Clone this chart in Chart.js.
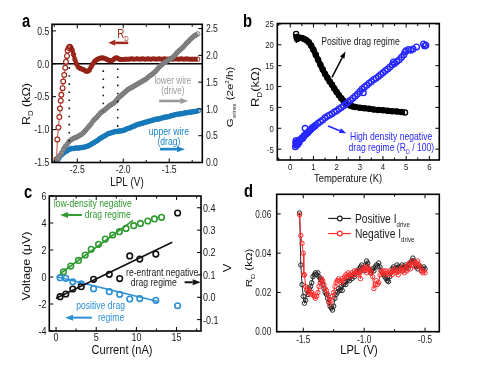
<!DOCTYPE html>
<html><head><meta charset="utf-8">
<script src="https://cdn.jsdelivr.net/npm/chart.js@4.4.1/dist/chart.umd.min.js"></script>
<style>
html,body{margin:0;padding:0;background:#fff;width:491px;height:368px;overflow:hidden}
#wrap{position:relative;width:491px;height:368px}
canvas{position:absolute;left:0;top:0}
</style></head>
<body><div id="wrap">
<canvas id="ca" width="491" height="368"></canvas>
<canvas id="cb" width="491" height="368"></canvas>
<canvas id="cc" width="491" height="368"></canvas>
<canvas id="cd" width="491" height="368"></canvas>
</div>
<script>
// ---------------- DATA ----------------
// Panel a : R_D (left axis, kΩ) and wire conductances (right axis, 2e²/h) vs LPL (V)
const aRdSparse = [[-2.725,-1.45],[-2.717,-1.15],[-2.705,-0.97],[-2.695,-0.81],[-2.688,-0.68],[-2.68,-0.56],[-2.674,-0.47],[-2.66,-0.37],[-2.653,-0.27],[-2.642,-0.17],[-2.631,-0.06],[-2.623,0.03],[-2.612,0.12],[-2.605,0.20],[-2.594,0.24],[-2.583,0.26]];
const aRdDense = [[-2.583,0.26],[-2.57,0.25],[-2.555,0.21],[-2.54,0.14],[-2.525,0.06],[-2.51,0.0],[-2.49,-0.05],[-2.47,-0.07],[-2.45,-0.08],[-2.43,-0.09],[-2.41,-0.11],[-2.39,-0.115],[-2.37,-0.10],[-2.35,-0.05],[-2.33,0.0],[-2.31,0.04],[-2.29,0.06],[-2.27,0.075],[-2.25,0.085],[-2.23,0.09],[-2.21,0.085],[-2.19,0.075],[-2.17,0.06],[-2.15,0.05],[-2.13,0.045],[-2.11,0.06],[-2.09,0.085],[-2.07,0.09],[-2.05,0.075],[-2.03,0.065],[-2.0,0.065],[-1.97,0.07],[-1.94,0.07],[-1.91,0.075],[-1.88,0.07],[-1.85,0.075],[-1.82,0.07],[-1.79,0.075],[-1.76,0.07],[-1.73,0.075],[-1.70,0.07],[-1.67,0.075],[-1.64,0.07],[-1.61,0.075],[-1.58,0.07],[-1.55,0.075],[-1.52,0.07],[-1.49,0.075],[-1.46,0.07],[-1.43,0.075],[-1.40,0.07],[-1.37,0.075],[-1.34,0.07],[-1.31,0.075],[-1.28,0.07],[-1.25,0.07],[-1.22,0.07],[-1.19,0.07]];
const aLower = [[-2.73,0.03],[-2.71,0.08],[-2.69,0.13],[-2.67,0.18],[-2.65,0.25],[-2.63,0.30],[-2.61,0.34],[-2.59,0.39],[-2.57,0.42],[-2.55,0.44],[-2.53,0.46],[-2.51,0.47],[-2.49,0.49],[-2.47,0.51],[-2.45,0.53],[-2.43,0.56],[-2.41,0.60],[-2.39,0.64],[-2.37,0.68],[-2.35,0.72],[-2.33,0.77],[-2.31,0.81],[-2.29,0.84],[-2.27,0.88],[-2.25,0.92],[-2.23,0.95],[-2.21,0.97],[-2.19,1.00],[-2.17,1.03],[-2.15,1.06],[-2.13,1.08],[-2.11,1.10],[-2.09,1.13],[-2.07,1.17],[-2.05,1.21],[-2.03,1.24],[-2.01,1.27],[-1.99,1.30],[-1.97,1.33],[-1.95,1.36],[-1.93,1.38],[-1.91,1.40],[-1.89,1.42],[-1.87,1.44],[-1.85,1.46],[-1.83,1.48],[-1.81,1.50],[-1.79,1.52],[-1.77,1.54],[-1.75,1.56],[-1.73,1.59],[-1.71,1.62],[-1.69,1.64],[-1.67,1.67],[-1.65,1.70],[-1.63,1.74],[-1.61,1.78],[-1.59,1.81],[-1.57,1.84],[-1.55,1.87],[-1.53,1.89],[-1.51,1.91],[-1.49,1.93],[-1.47,1.95],[-1.45,1.98],[-1.43,2.02],[-1.41,2.06],[-1.39,2.09],[-1.37,2.12],[-1.35,2.15],[-1.33,2.19],[-1.31,2.23],[-1.29,2.26],[-1.27,2.30],[-1.25,2.33],[-1.23,2.36],[-1.21,2.38],[-1.19,2.40]];
const aUpper = [[-2.72,0.03],[-2.70,0.08],[-2.68,0.13],[-2.66,0.16],[-2.64,0.19],[-2.62,0.21],[-2.60,0.23],[-2.58,0.25],[-2.56,0.26],[-2.54,0.26],[-2.52,0.27],[-2.50,0.27],[-2.48,0.27],[-2.46,0.28],[-2.44,0.28],[-2.42,0.29],[-2.40,0.30],[-2.38,0.31],[-2.36,0.33],[-2.34,0.35],[-2.32,0.37],[-2.30,0.39],[-2.28,0.41],[-2.26,0.44],[-2.24,0.46],[-2.22,0.48],[-2.20,0.50],[-2.18,0.52],[-2.16,0.54],[-2.14,0.55],[-2.12,0.56],[-2.10,0.57],[-2.08,0.58],[-2.06,0.58],[-2.04,0.59],[-2.02,0.59],[-2.00,0.60],[-1.98,0.61],[-1.96,0.63],[-1.94,0.64],[-1.92,0.65],[-1.90,0.67],[-1.88,0.68],[-1.86,0.70],[-1.84,0.71],[-1.82,0.72],[-1.80,0.73],[-1.78,0.74],[-1.76,0.75],[-1.74,0.76],[-1.72,0.77],[-1.70,0.78],[-1.68,0.79],[-1.66,0.80],[-1.64,0.81],[-1.62,0.81],[-1.60,0.82],[-1.58,0.83],[-1.56,0.84],[-1.54,0.85],[-1.52,0.85],[-1.50,0.86],[-1.48,0.87],[-1.46,0.88],[-1.44,0.89],[-1.42,0.90],[-1.40,0.90],[-1.38,0.91],[-1.36,0.91],[-1.34,0.92],[-1.32,0.93],[-1.30,0.93],[-1.28,0.94],[-1.26,0.94],[-1.24,0.95],[-1.22,0.95],[-1.20,0.96],[-1.18,0.97]];
const aDots = [[-2.587,-0.05,-1.2],[-2.217,-0.1,-0.72],[-2.06,-0.07,-1.02]]; // x, yTop, yBottom (left axis)
const aXTicks = [-2.5,-2.0,-1.5], aXMinor = [-2.75,-2.25,-1.75,-1.25];
const aYTicks = [0.5,0.0,-0.5,-1.0,-1.5];
const aY1Ticks = [0.0,0.5,1.0,1.5,2.0,2.5];

// Panel b : R_D vs Temperature
const bPos = [[0.25,22.6],[0.27,21.8],[0.3,21.4],[0.35,21.6],[0.4,21.7],[0.5,21.6],[0.6,21.4],[0.7,21.1],[0.8,20.6],[0.9,19.8],[1.0,18.8],[1.1,17.6],[1.2,16.4],[1.3,15.2],[1.4,14.1],[1.5,13.0],[1.6,12.1],[1.7,11.2],[1.8,10.4],[1.9,9.5],[2.0,8.7],[2.1,7.9],[2.2,7.2],[2.3,6.6],[2.4,6.1],[2.5,5.7],[2.6,5.4],[2.7,5.2],[2.8,5.1],[3.0,4.9],[3.2,4.8],[3.4,4.7],[3.6,4.5],[3.8,4.4],[4.0,4.3],[4.2,4.2],[4.4,4.1],[4.6,4.0],[4.8,3.9],[4.95,3.8]];
const bNeg = [[0.22,-4.4],[0.23,-3.4],[0.25,-2.9],[0.26,-4.0],[0.28,-3.7],[0.3,-3.2],[0.32,-3.9],[0.35,-3.0],[0.38,-3.4],[0.42,-2.8],[0.46,-2.6],[0.5,-2.3],[0.54,-2.4],[0.58,-1.9],[0.62,-1.7],[0.64,0.0],[0.68,-1.4],[0.72,-1.2],[0.76,-1.0],[0.8,-0.7],[0.85,-0.5],[0.9,-0.2],[0.95,0.1],[1.0,0.3],[1.05,0.5],[1.1,0.8],[1.2,1.2],[1.3,1.6],[1.4,2.0],[1.5,2.5],[1.6,2.9],[1.7,3.2],[1.8,3.5],[1.9,3.9],[2.0,4.2],[2.1,4.6],[2.2,5.0],[2.3,5.4],[2.4,5.8],[2.5,6.3],[2.6,6.7],[2.7,7.2],[2.8,7.7],[2.9,8.2],[3.0,8.8],[3.1,9.4],[3.15,8.5],[3.2,9.9],[3.3,10.3],[3.4,10.8],[3.5,11.2],[3.6,11.7],[3.7,12.0],[3.8,12.4],[3.9,12.9],[4.0,13.3],[4.1,13.8],[4.2,14.2],[4.3,14.7],[4.4,15.2],[4.45,15.9],[4.5,15.5],[4.6,16.0],[4.7,16.4],[4.8,17.0],[4.9,17.6],[4.95,18.3],[5.0,18.6],[5.1,18.9],[5.2,18.7],[5.3,19.0],[5.45,19.5],[5.75,20.2],[5.85,19.9],[5.8,19.7]];
const bXTicks = [0,1,2,3,4,5,6], bXMinor = [-0.5,0.5,1.5,2.5,3.5,4.5,5.5];
const bYTicks = [-5,0,5,10,15,20,25];

// Panel c : Voltage vs Current
const cGreen = [[0.92,0.39],[1.83,0.81],[2.79,1.23],[3.63,1.63],[4.38,2.05],[5.29,2.42],[6.13,2.81],[7.04,3.11],[7.88,3.36],[8.71,3.60],[9.67,3.80],[10.5,3.97],[11.42,4.15],[12.25,4.30],[13.13,4.42]];
const cGreenFit = [[0.5,0.24],[9.58,4.2]];
const cBlack = [[0.5,-1.46],[1.21,-1.26],[2.08,-0.89],[3.13,-0.72],[4.67,-0.17],[6.63,0.2],[7.92,-0.12],[9.17,1.56],[10.42,1.33],[12.42,1.7],[15.13,4.74]];
const cBlackFit = [[0.0,-1.58],[14.46,2.57]];
const cBlue = [[0.5,-0.05],[1.21,-0.1],[2.08,-0.35],[3.13,-0.5],[4.67,-0.87],[6.63,-1.09],[7.92,-1.28],[9.17,-1.63],[10.42,-1.6],[12.42,-1.73],[15.13,-2.13]];
const cBlueFit = [[0.08,0.02],[12.8,-1.83]];
const cXTicks = [0,5,10,15], cXMinor = [2.5,7.5,12.5,17.5];
const cYTicks = [-4,-2,0,2,4,6];
const cY1Ticks = [-0.1,0.0,0.1,0.2,0.3,0.4];

// Panel d : R_D vs LPL for both drive polarities
const dPos = [[-1.53,0.0605],[-1.52,0.034],[-1.51,0.024],[-1.50,0.018],[-1.49,0.0145],[-1.48,0.016],[-1.47,0.021],[-1.46,0.019],[-1.45,0.022],[-1.44,0.023],[-1.43,0.025],[-1.42,0.028],[-1.41,0.029],[-1.40,0.030],[-1.39,0.029],[-1.38,0.030],[-1.37,0.028],[-1.36,0.027],[-1.35,0.026],[-1.34,0.024],[-1.33,0.022],[-1.32,0.020],[-1.31,0.019],[-1.30,0.017],[-1.29,0.015],[-1.28,0.013],[-1.27,0.012],[-1.26,0.011],[-1.25,0.013],[-1.24,0.017],[-1.23,0.019],[-1.22,0.020],[-1.21,0.022],[-1.20,0.021],[-1.19,0.023],[-1.18,0.021],[-1.17,0.024],[-1.16,0.025],[-1.15,0.024],[-1.14,0.026],[-1.13,0.027],[-1.12,0.026],[-1.11,0.028],[-1.10,0.027],[-1.09,0.029],[-1.08,0.028],[-1.07,0.030],[-1.06,0.031],[-1.05,0.030],[-1.04,0.032],[-1.03,0.033],[-1.02,0.034],[-1.01,0.032],[-1.00,0.031],[-0.99,0.034],[-0.98,0.036],[-0.97,0.035],[-0.96,0.032],[-0.95,0.030],[-0.94,0.031],[-0.93,0.032],[-0.92,0.031],[-0.91,0.033],[-0.90,0.034],[-0.89,0.033],[-0.88,0.035],[-0.87,0.033],[-0.86,0.031],[-0.85,0.030],[-0.84,0.029],[-0.83,0.028],[-0.82,0.027],[-0.81,0.026],[-0.80,0.0255],[-0.79,0.028],[-0.78,0.030],[-0.77,0.032],[-0.76,0.033],[-0.75,0.032],[-0.74,0.031],[-0.73,0.034],[-0.72,0.033],[-0.71,0.032],[-0.70,0.033],[-0.69,0.034],[-0.68,0.031],[-0.67,0.033],[-0.66,0.034],[-0.65,0.033],[-0.64,0.032],[-0.63,0.034],[-0.62,0.035],[-0.61,0.036],[-0.60,0.0375],[-0.59,0.036],[-0.58,0.034],[-0.57,0.033],[-0.56,0.032],[-0.55,0.034],[-0.54,0.033],[-0.53,0.031],[-0.52,0.032],[-0.51,0.033],[-0.50,0.032]];
const dNeg = [[-1.53,0.0595],[-1.52,0.049],[-1.51,0.045],[-1.50,0.040],[-1.495,0.029],[-1.49,0.029],[-1.48,0.023],[-1.47,0.022],[-1.46,0.020],[-1.45,0.021],[-1.44,0.019],[-1.43,0.020],[-1.42,0.019],[-1.41,0.018],[-1.40,0.017],[-1.39,0.018],[-1.38,0.020],[-1.37,0.023],[-1.36,0.025],[-1.35,0.027],[-1.34,0.026],[-1.33,0.024],[-1.32,0.022],[-1.31,0.021],[-1.30,0.019],[-1.29,0.016],[-1.28,0.014],[-1.27,0.016],[-1.26,0.018],[-1.25,0.020],[-1.24,0.023],[-1.23,0.025],[-1.22,0.026],[-1.21,0.027],[-1.20,0.026],[-1.19,0.025],[-1.18,0.027],[-1.17,0.026],[-1.16,0.028],[-1.15,0.029],[-1.14,0.028],[-1.13,0.030],[-1.12,0.029],[-1.11,0.028],[-1.10,0.030],[-1.09,0.029],[-1.08,0.031],[-1.07,0.030],[-1.06,0.029],[-1.05,0.031],[-1.04,0.030],[-1.03,0.027],[-1.02,0.031],[-1.01,0.032],[-1.00,0.033],[-0.99,0.032],[-0.98,0.030],[-0.97,0.033],[-0.96,0.032],[-0.95,0.031],[-0.94,0.030],[-0.93,0.028],[-0.92,0.022],[-0.91,0.024],[-0.90,0.026],[-0.89,0.024],[-0.88,0.025],[-0.87,0.029],[-0.86,0.031],[-0.85,0.030],[-0.84,0.031],[-0.83,0.029],[-0.82,0.031],[-0.81,0.030],[-0.80,0.029],[-0.79,0.031],[-0.78,0.030],[-0.77,0.029],[-0.76,0.031],[-0.75,0.032],[-0.74,0.030],[-0.73,0.031],[-0.72,0.029],[-0.71,0.031],[-0.70,0.032],[-0.69,0.031],[-0.68,0.033],[-0.67,0.030],[-0.66,0.032],[-0.65,0.031],[-0.64,0.034],[-0.63,0.035],[-0.62,0.032],[-0.61,0.034],[-0.60,0.036],[-0.59,0.035],[-0.58,0.033],[-0.57,0.035],[-0.56,0.036],[-0.55,0.034],[-0.54,0.033],[-0.53,0.031],[-0.52,0.030],[-0.51,0.031],[-0.50,0.030]];
const dXTicks = [-1.5,-1.0,-0.5], dXMinor = [-1.25,-0.75];
const dYTicks = [0.00,0.02,0.04,0.06];

// ---------------- HELPERS ----------------
const FR = '"Liberation Sans",Arial,sans-serif';
const SQ = 0.82; // horizontal squeeze of the original figure's lettering
const RED='#a3281c', GRAY='#8e8e8e', ABLUE='#1a84c7', BBLUE='#2626ff', GREEN='#2f9a2f', CBLUE='#2b8fd2', DRED='#ff2a2a';
const W=491, H=368;
const pts = arr => arr.map(p => ({x:p[0], y:p[1]}));
function pad(l,t,r,b,lw,rw,bh){ return {left:l-lw, top:t, right:W-r-rw, bottom:H-b-bh}; }
function axis(pos, fix, ticksArr, extra){
  return Object.assign({
    type:'linear', position:pos,
    grid:{display:false, drawTicks:false}, border:{display:false},
    ticks:{display:false},
    afterBuildTicks: s => { s.ticks = ticksArr.map(v => ({value:v})); },
    afterFit: s => { if(pos==='left'||pos==='right') s.width = fix; else s.height = fix; }
  }, extra);
}
function rich(ctx,x,y,parts,o){
  const size=o.size||10, wt=o.weight||'normal';
  ctx.save(); ctx.translate(x,y);
  if(o.rot){ ctx.rotate(o.rot); ctx.scale(1,SQ); } else { ctx.scale(SQ,1); }
  ctx.fillStyle=o.color||'#111'; ctx.textBaseline='alphabetic'; ctx.textAlign='left';
  let tot=0;
  const segs=parts.map(p=>{ const s=p[1]?size*(o.subScale||0.62):size; ctx.font=wt+' '+s+'px '+FR;
    const wd=ctx.measureText(p[0]).width; tot+=wd;
    return {t:p[0], s, wd, dy:p[1]==='sub'?size*0.3:(p[1]==='sup'?-size*0.42:0)}; });
  let cx = o.align==='left'?0:(o.align==='right'?-tot:-tot/2);
  const by = size*0.36;
  segs.forEach(g=>{ ctx.font=wt+' '+g.s+'px '+FR; ctx.fillText(g.t,cx,by+g.dy); cx+=g.wd; });
  ctx.restore();
}
function arrow(ctx,x1,y1,x2,y2,col,lw,hl,hw){
  const a=Math.atan2(y2-y1,x2-x1), bx=x2-hl*Math.cos(a), by=y2-hl*Math.sin(a);
  ctx.save(); ctx.strokeStyle=col; ctx.fillStyle=col; ctx.lineWidth=lw;
  ctx.beginPath(); ctx.moveTo(x1,y1); ctx.lineTo(bx,by); ctx.stroke();
  ctx.beginPath(); ctx.moveTo(x2,y2);
  ctx.lineTo(bx+hw/2*Math.sin(a), by-hw/2*Math.cos(a));
  ctx.lineTo(bx-hw/2*Math.sin(a), by+hw/2*Math.cos(a));
  ctx.closePath(); ctx.fill(); ctx.restore();
}
// frame, inward tick marks and tick labels (labels from the tick arrays, placed by the chart's scales)
function frame(ch, specs){
  const ctx=ch.ctx, a=ch.chartArea;
  ctx.save(); ctx.strokeStyle='#000'; ctx.lineWidth=1; ctx.beginPath();
  specs.forEach(t=>{ const s=ch.scales[t.id];
    [[t.major,4],[t.minor||[],2.5]].forEach(([vals,len])=>vals.forEach(v=>{ const p=s.getPixelForValue(v);
      t.sides.forEach(sd=>{
        if(sd==='bottom'){ctx.moveTo(p,a.bottom);ctx.lineTo(p,a.bottom-len);}
        if(sd==='top'){ctx.moveTo(p,a.top);ctx.lineTo(p,a.top+len);}
        if(sd==='left'){ctx.moveTo(a.left,p);ctx.lineTo(a.left+len,p);}
        if(sd==='right'){ctx.moveTo(a.right,p);ctx.lineTo(a.right-len,p);}
      }); })); });
  ctx.stroke(); ctx.lineWidth=1.6; ctx.strokeRect(a.left,a.top,a.right-a.left,a.bottom-a.top); ctx.restore();
  specs.forEach(t=>{ if(!t.lab) return; const s=ch.scales[t.id], L=t.lab;
    t.major.forEach(v=>{ const p=s.getPixelForValue(v), txt=L.fmt(v);
      if(L.side==='bottom') rich(ctx,p,a.bottom+L.off,[[txt]],{size:L.size,color:'#1a1a1a'});
      if(L.side==='left') rich(ctx,a.left-L.off,p,[[txt]],{size:L.size,color:'#1a1a1a',align:'right'});
      if(L.side==='right') rich(ctx,a.right+L.off,p,[[txt]],{size:L.size,color:'#1a1a1a',align:'left'});
    }); });
}
function letter(ctx,t,x,y){ ctx.save(); ctx.translate(x,y); ctx.scale(SQ,1); ctx.fillStyle='#000'; ctx.font='bold 18px '+FR; ctx.textBaseline='alphabetic'; ctx.fillText(t,0,0); ctx.restore(); }
const base = { responsive:false, animation:false, devicePixelRatio:1,
  plugins:{legend:{display:false}, tooltip:{enabled:false}} };
function opts(p, scales){ return Object.assign({}, base, {layout:{padding:p}, scales}); }
const f1 = v => v.toFixed(1), f0 = v => String(v), f2 = v => v.toFixed(2);
const ROT = -Math.PI/2;

// ---------------- PANEL A ----------------
new Chart(document.getElementById('ca'), {
  type:'scatter',
  data:{ datasets:[
    ...aDots.map(d=>({data:[{x:d[0],y:d[1]},{x:d[0],y:d[2]}], yAxisID:'y', showLine:true, borderColor:'#111', borderWidth:1.6, borderDash:[1.6,6.5], pointRadius:0})),
    {data:pts(aLower), yAxisID:'y1', showLine:true, borderColor:GRAY, borderWidth:4, pointRadius:2.3, pointBorderWidth:1, pointBorderColor:'#777', pointBackgroundColor:'rgba(0,0,0,0)'},
    {data:pts(aUpper), yAxisID:'y1', showLine:true, borderColor:ABLUE, borderWidth:4.5, pointRadius:2.3, pointBorderWidth:1, pointBorderColor:'#1577b8', pointBackgroundColor:'rgba(0,0,0,0)'},
    {data:pts(aRdDense), yAxisID:'y', showLine:true, borderColor:RED, borderWidth:4, pointRadius:2.2, pointBorderWidth:1, pointBorderColor:'#8e2014', pointBackgroundColor:'rgba(0,0,0,0)'},
    {data:pts(aRdSparse), yAxisID:'y', showLine:true, borderColor:'#c0483c', borderWidth:1, pointRadius:2.4, pointBorderWidth:1.2, pointBorderColor:RED, pointBackgroundColor:'#fff'}
  ]},
  options: opts(pad(52,24.3,202.3,162.5,52,42.7,22.5), {
    x: axis('bottom',22.5,aXTicks,{min:-2.775,max:-1.14}),
    y: axis('left',52,aYTicks,{min:-1.5,max:0.6}),
    y1: axis('right',42.7,aY1Ticks,{min:0,max:2.58})
  }),
  plugins:[{id:'decoA',
    beforeDatasetsDraw(ch){ const ctx=ch.ctx, a=ch.chartArea, y0=ch.scales.y.getPixelForValue(0);
      ctx.save(); ctx.strokeStyle='#000'; ctx.lineWidth=1.6; ctx.beginPath(); ctx.moveTo(a.left,y0); ctx.lineTo(a.right,y0); ctx.stroke(); ctx.restore(); },
    afterDraw(ch){
      const ctx=ch.ctx, px=v=>ch.scales.x.getPixelForValue(v), py=v=>ch.scales.y.getPixelForValue(v);
      frame(ch,[{id:'x',major:aXTicks,minor:aXMinor,sides:['bottom','top'],lab:{side:'bottom',fmt:f1,size:10.5,off:6.7}},
                {id:'y',major:aYTicks,sides:['left'],lab:{side:'left',fmt:f1,size:10.5,off:2.8}},
                {id:'y1',major:aY1Ticks,sides:['right'],lab:{side:'right',fmt:f1,size:10.5,off:3.6}}]);
      rich(ctx,px(-2.003),py(0.465),[['R'],['D','sub']],{size:12,color:RED});
      arrow(ctx,px(-1.946),py(0.318),px(-2.163),py(0.318),RED,2.5,7,6);
      rich(ctx,px(-1.46),py(-0.26),[['lower wire']],{size:10,color:'#9a9a9a'});
      rich(ctx,px(-1.46),py(-0.405),[['(drive)']],{size:10,color:'#9a9a9a'});
      arrow(ctx,px(-1.609),py(-0.565),px(-1.293),py(-0.565),'#999',2.6,8,6);
      rich(ctx,px(-1.503),py(-1.03),[['upper wire']],{size:10.5,color:ABLUE});
      rich(ctx,px(-1.503),py(-1.18),[['(drag)']],{size:10.5,color:ABLUE});
      arrow(ctx,px(-1.601),py(-1.297),px(-1.329),py(-1.297),ABLUE,2.6,8,6);
      rich(ctx,26,104,[['R'],['D','sub'],[' (kΩ)']],{size:12.5,rot:ROT});
      rich(ctx,230,97,[['G'],['wires','sub'],[' (2e'],['2','sup'],['/h)']],{size:11.5,rot:ROT,subScale:0.55});
      rich(ctx,127,182,[['LPL (V)']],{size:12});
      letter(ctx,'a',22,27);
    }}]
});

// ---------------- PANEL B ----------------
new Chart(document.getElementById('cb'), {
  type:'scatter',
  data:{ datasets:[
    {data:pts(bNeg), showLine:false, pointRadius:2.8, pointBorderWidth:1.4, pointBorderColor:BBLUE, pointBackgroundColor:'rgba(0,0,0,0)'},
    {data:pts(bPos), showLine:true, borderColor:'#000', borderWidth:5.5, pointRadius:2.6, pointBorderWidth:1.3, pointBorderColor:'#000', pointBackgroundColor:'rgba(255,255,255,0)'}
  ]},
  options: opts(pad(277.3,23.5,439.3,160,32.3,0,25), {
    x: axis('bottom',25,bXTicks,{min:-0.56,max:6.43}),
    y: axis('left',32.3,bYTicks,{min:-7.6,max:25.1})
  }),
  plugins:[{id:'decoB', afterDraw(ch){
      const ctx=ch.ctx, px=v=>ch.scales.x.getPixelForValue(v), py=v=>ch.scales.y.getPixelForValue(v);
      frame(ch,[{id:'x',major:bXTicks,minor:bXMinor,sides:['bottom','top'],lab:{side:'bottom',fmt:f0,size:9.5,off:6.7}},
                {id:'y',major:bYTicks,sides:['left','right'],lab:{side:'left',fmt:f0,size:9.5,off:3.5}}]);
      rich(ctx,px(3.03),py(20.8),[['Positive drag regime']],{size:10.5,color:'#222'});
      arrow(ctx,px(1.80),py(12.2),px(2.38),py(18.4),'#000',1.5,7,5);
      rich(ctx,px(4.35),py(-2.02),[['High density negative']],{size:10.5,color:BBLUE});
      rich(ctx,px(4.36),py(-4.42),[['drag regime (R'],['D','sub'],[' / 100)']],{size:10.5,color:BBLUE});
      arrow(ctx,px(1.63),py(0.55),px(2.42),py(-1.2),BBLUE,1.5,7,5);
      rich(ctx,255,87,[['R'],['D','sub'],['(kΩ)']],{size:13,rot:ROT});
      rich(ctx,348,178,[['Temperature (K)']],{size:11.5});
      letter(ctx,'b',243,27);
    }}]
});

// ---------------- PANEL C ----------------
new Chart(document.getElementById('cc'), {
  type:'scatter',
  data:{ datasets:[
    {data:pts(cGreenFit), showLine:true, borderColor:GREEN, borderWidth:1.6, pointRadius:0},
    {data:pts(cBlackFit), showLine:true, borderColor:'#111', borderWidth:1.6, pointRadius:0},
    {data:pts(cBlueFit), showLine:true, borderColor:CBLUE, borderWidth:1.6, pointRadius:0},
    {data:pts(cGreen), pointRadius:2.8, pointBorderWidth:1.6, pointBorderColor:GREEN, pointBackgroundColor:'#fff'},
    {data:pts(cBlack), pointRadius:2.8, pointBorderWidth:1.6, pointBorderColor:'#111', pointBackgroundColor:'#fff'},
    {data:pts(cBlue), pointRadius:2.8, pointBorderWidth:1.6, pointBorderColor:CBLUE, pointBackgroundColor:'#fff'}
  ]},
  options: opts(pad(49.3,196,201,331,49.3,44,37), {
    x: axis('bottom',37,cXTicks,{min:-0.84,max:18.04}),
    y: axis('left',49.3,cYTicks,{min:-4,max:6}),
    y1: axis('right',44,cY1Ticks,{min:-0.1508,max:0.4526})
  }),
  plugins:[{id:'decoC', afterDraw(ch){
      const ctx=ch.ctx, px=v=>ch.scales.x.getPixelForValue(v), py=v=>ch.scales.y.getPixelForValue(v);
      frame(ch,[{id:'x',major:cXTicks,minor:cXMinor,sides:['bottom','top'],lab:{side:'bottom',fmt:f0,size:11,off:5.8}},
                {id:'y',major:cYTicks,sides:['left'],lab:{side:'left',fmt:f0,size:11,off:2.8}},
                {id:'y1',major:cY1Ticks,sides:['right'],lab:{side:'right',fmt:f1,size:11,off:2}}]);
      rich(ctx,px(4.56),py(5.46),[['low-density negative']],{size:10.5,color:GREEN});
      rich(ctx,px(6.44),py(4.64),[['drag regime']],{size:10.5,color:GREEN});
      arrow(ctx,px(3.21),py(4.59),px(0.5),py(4.59),GREEN,2,8,6);
      rich(ctx,px(13.21),py(0.35),[['re-entrant negative']],{size:10.5,color:'#222'});
      rich(ctx,px(12.17),py(-0.42),[['drag regime']],{size:10.5,color:'#222'});
      arrow(ctx,px(16.0),py(-0.39),px(18.0),py(-0.39),'#111',2,8,6);
      rich(ctx,px(5.54),py(-2.12),[['positive drag']],{size:10.5,color:CBLUE});
      rich(ctx,px(6.85),py(-2.99),[['regime']],{size:10.5,color:CBLUE});
      arrow(ctx,px(4.46),py(-3.01),px(1.13),py(-3.01),CBLUE,2,8,6);
      rich(ctx,26,266,[['Voltage (μV)']],{size:12.5,rot:ROT});
      rich(ctx,227,268,[['V']],{size:13,rot:ROT});
      rich(ctx,122,349,[['Current (nA)']],{size:13.5});
      letter(ctx,'c',24,198);
    }}]
});

// ---------------- PANEL D ----------------
new Chart(document.getElementById('cd'), {
  type:'scatter',
  data:{ datasets:[
    {data:pts(dNeg), showLine:true, borderColor:DRED, borderWidth:1, pointRadius:2.2, pointBorderWidth:1, pointBorderColor:DRED, pointBackgroundColor:'rgba(0,0,0,0)'},
    {data:pts(dPos), showLine:true, borderColor:'#222', borderWidth:1, pointRadius:2.2, pointBorderWidth:1, pointBorderColor:'#222', pointBackgroundColor:'rgba(0,0,0,0)'}
  ]},
  options: opts(pad(276.7,194.3,439.3,331.7,31.7,0,36.3), {
    x: axis('bottom',36.3,dXTicks,{min:-1.718,max:-0.383}),
    y: axis('left',31.7,dYTicks,{min:0,max:0.07})
  }),
  plugins:[{id:'decoD', afterDraw(ch){
      const ctx=ch.ctx, px=v=>ch.scales.x.getPixelForValue(v), py=v=>ch.scales.y.getPixelForValue(v);
      frame(ch,[{id:'x',major:dXTicks,minor:dXMinor,sides:['bottom','top'],lab:{side:'bottom',fmt:f1,size:10,off:7.5}},
                {id:'y',major:dYTicks,sides:['left','right'],lab:{side:'left',fmt:f2,size:10,off:5.5}}]);
      [['#222','Positive I',0.0577],[DRED,'Negative I',0.05]].forEach(([c,t,yv])=>{
        ctx.save(); ctx.strokeStyle=c; ctx.lineWidth=1.2; ctx.beginPath(); ctx.moveTo(px(-1.295),py(yv)); ctx.lineTo(px(-1.109),py(yv)); ctx.stroke();
        ctx.fillStyle='#fff'; ctx.beginPath(); ctx.arc(px(-1.2),py(yv),2.4,0,Math.PI*2); ctx.fill(); ctx.stroke(); ctx.restore();
        rich(ctx,px(-1.076),py(yv),[[t],['drive','sub']],{size:12.5,color:'#222',align:'left',subScale:0.6});
      });
      rich(ctx,249,268,[['R'],['D','sub'],[' (kΩ)']],{size:11.5,rot:ROT});
      rich(ctx,359,349,[['LPL (V)']],{size:13.5});
      letter(ctx,'d',244,197);
    }}]
});
</script>
</body></html>
